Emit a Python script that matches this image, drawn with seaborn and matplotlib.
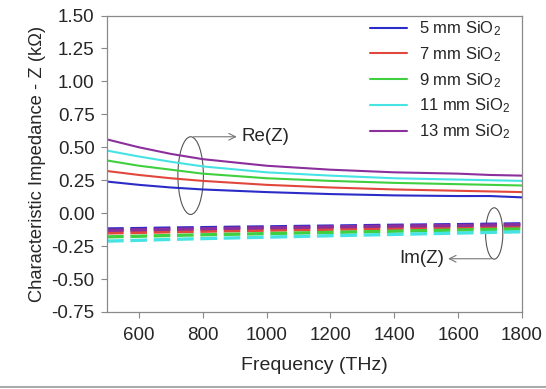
import matplotlib
matplotlib.use("Agg")
import matplotlib.pyplot as plt
from matplotlib.lines import Line2D
from matplotlib.patches import Ellipse
import seaborn as sns

# Frequency grid (THz) and characteristic impedance (kOhm)
FREQ = [500, 600, 700, 800, 1000, 1200, 1400, 1600, 1700, 1800]
LABELS = ["5 mm SiO$_2$", "7 mm SiO$_2$", "9 mm SiO$_2$", "11 mm SiO$_2$", "13 mm SiO$_2$"]
COLORS = ["#2b2bc8", "#e2473d", "#3fcf3f", "#45e3e3", "#8b2f9c"]

RE_5 = [0.24, 0.215, 0.195, 0.18, 0.16, 0.145, 0.135, 0.13, 0.13, 0.12]
RE_7 = [0.32, 0.29, 0.265, 0.245, 0.215, 0.195, 0.18, 0.17, 0.165, 0.16]
RE_9 = [0.40, 0.36, 0.33, 0.30, 0.265, 0.245, 0.23, 0.22, 0.215, 0.21]
RE_11 = [0.475, 0.43, 0.39, 0.355, 0.31, 0.285, 0.265, 0.255, 0.25, 0.245]
RE_13 = [0.56, 0.50, 0.45, 0.41, 0.36, 0.33, 0.31, 0.30, 0.29, 0.285]

IM_5 = [-0.12, -0.117, -0.113, -0.11, -0.104, -0.098, -0.092, -0.087, -0.084, -0.081]
IM_7 = [-0.15, -0.146, -0.141, -0.137, -0.129, -0.122, -0.115, -0.108, -0.104, -0.10]
IM_9 = [-0.18, -0.175, -0.169, -0.164, -0.155, -0.146, -0.137, -0.128, -0.124, -0.12]
IM_11 = [-0.212, -0.206, -0.199, -0.193, -0.182, -0.171, -0.161, -0.151, -0.146, -0.141]
IM_13 = [-0.13, -0.126, -0.122, -0.118, -0.111, -0.104, -0.098, -0.093, -0.090, -0.087]

RE_ALL = [RE_5, RE_7, RE_9, RE_11, RE_13]
IM_ALL = [IM_5, IM_7, IM_9, IM_11, IM_13]


def main() -> None:
    sns.set_theme(style="white")
    plt.rcParams["font.family"] = ["Liberation Sans", "DejaVu Sans"]
    plt.rcParams["mathtext.default"] = "regular"

    fig = plt.figure(figsize=(5.46, 3.89), dpi=100)
    ax = fig.add_axes([0.196, 0.198, 0.760, 0.762])

    # Im(Z) dashed curves
    for vals, color in zip(IM_ALL, COLORS):
        sns.lineplot(x=FREQ, y=vals, color=color, lw=2.4, ax=ax,
                     linestyle=(0, (5, 2)), legend=False)

    handles = []
    for vals, color, label in zip(RE_ALL, COLORS, LABELS):
        sns.lineplot(x=FREQ, y=vals, color=color, lw=1.5, ax=ax, legend=False)
        handles.append(Line2D([], [], color=color, lw=1.5, label=label))

    ax.set_xlim(500, 1800)
    ax.set_ylim(-0.75, 1.5)
    ax.set_xticks([600, 800, 1000, 1200, 1400, 1600, 1800])
    ax.set_yticks([-0.75, -0.5, -0.25, 0, 0.25, 0.5, 0.75, 1.0, 1.25, 1.5])
    ax.set_yticklabels([f"{v:.2f}" for v in ax.get_yticks()])
    ax.tick_params(axis="both", labelsize=13.5, direction="out", length=4,
                   width=0.8, color="#888888", bottom=True, left=True, pad=5)
    ax.tick_params(axis="x", pad=7)
    for spine in ax.spines.values():
        spine.set_color("#8a8a8a")
        spine.set_linewidth(0.9)

    ax.set_xlabel("Frequency (THz)", fontsize=14, labelpad=9)
    ax.set_ylabel("Characteristic Impedance - Z (k\u03a9)", fontsize=13.2, labelpad=4)

    ax.legend(handles=handles, loc="upper right", frameon=False, fontsize=12,
              handlelength=2.2, handletextpad=0.7, labelspacing=0.42,
              borderaxespad=0.2, bbox_to_anchor=(0.995, 1.02))

    # Re(Z) callout
    ax.add_patch(Ellipse((762, 0.285), 80, 0.59, fill=False, ec="#555555", lw=0.8))
    ax.annotate("", xy=(915, 0.58), xytext=(762, 0.58),
                arrowprops=dict(arrowstyle="->", color="#777777", lw=0.8))
    ax.text(920, 0.58, "Re(Z)", fontsize=13.5, va="center", ha="left")

    # Im(Z) callout
    ax.add_patch(Ellipse((1713, -0.154), 54, 0.39, fill=False, ec="#555555", lw=0.8))
    ax.annotate("", xy=(1560, -0.346), xytext=(1713, -0.346),
                arrowprops=dict(arrowstyle="->", color="#777777", lw=0.8))
    ax.text(1556, -0.346, "Im(Z)", fontsize=13.5, va="center", ha="right")

    fig.add_artist(Line2D([0, 1], [0.006, 0.006], color="#999999", lw=1.2))

    fig.savefig("out.png", dpi=100)
    plt.close(fig)


if __name__ == "__main__":
    main()
